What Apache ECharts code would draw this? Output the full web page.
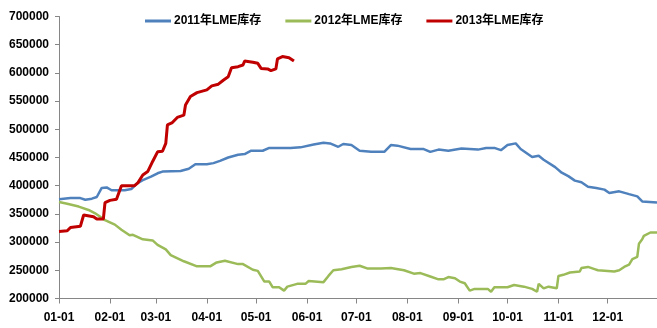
<!DOCTYPE html>
<html>
<head>
<meta charset="utf-8">
<script src="https://cdn.jsdelivr.net/npm/echarts@6/dist/echarts.min.js"></script>
<style>
  html, body { margin: 0; padding: 0; background: #fff; }
  #chart { width: 657px; height: 328px; }
</style>
</head>
<body>
<div id="chart"></div>
<script>
// LME stock levels (tonnes), sampled by day of year (0 = Jan 1)
const seriesNames = ['2011年LME库存', '2012年LME库存', '2013年LME库存'];

const day2011 = [0, 7, 13, 16, 20, 23, 26, 29, 32, 40, 44, 47, 51, 56, 60, 63, 74, 79, 83, 90,
  94, 98, 103, 109, 113, 117, 124, 128, 141, 147, 155, 161, 165, 170, 173, 178, 183, 190, 198, 202,
  206, 214, 222, 226, 231, 237, 245, 255, 260, 265, 269, 273, 278, 281, 288, 292, 295, 302, 306, 310,
  314, 318, 322, 327, 332, 335, 341, 347, 352, 355, 364];
const stock2011 = [376000, 378000, 378000, 375000, 377000, 380000, 396000, 397000, 392000, 392000,
  394000, 403000, 410000, 416000, 422000, 425000, 426000, 430000, 438000, 438000,
  440000, 444000, 450000, 455000, 456000, 462000, 462000, 467000, 467000, 468000,
  473000, 476000, 475000, 469000, 474000, 472000, 462000, 460000, 460000, 472000,
  471000, 465000, 465000, 460000, 464000, 462000, 466000, 464000, 467000, 467000,
  463000, 472000, 475000, 465000, 451000, 453000, 446000, 433000, 423000, 417000,
  409000, 406000, 398000, 396000, 393000, 387000, 390000, 385000, 381000, 372000, 370000];

const day2012 = [0, 5, 12, 18, 22, 28, 34, 38, 43, 45, 51, 57, 60, 65, 68, 76, 84, 92, 96, 101,
  109, 112, 118, 121, 125, 128, 130, 134, 137, 139, 145, 150, 152, 161, 164, 167, 172, 178, 183, 188,
  196, 202, 210, 216, 220, 226, 231, 234, 237, 241, 244, 247, 250, 253, 261, 263, 265, 273, 277, 283,
  288, 291, 292, 295, 298, 303, 304, 307, 311, 317, 318, 322, 326, 328, 338, 341, 344, 347, 349, 352,
  353, 355, 356, 360, 364];
const stock2012 = [371000, 368000, 363000, 357000, 351000, 339000, 331000, 322000, 312000, 313000,
  305000, 303000, 295000, 287000, 277000, 266000, 257000, 257000, 264000, 267000,
  261000, 261000, 251000, 249000, 230000, 230000, 220000, 220000, 214000, 221000,
  226000, 226000, 231000, 229000, 240000, 250000, 252000, 256000, 258000, 253000,
  253000, 254000, 250000, 244000, 245000, 239000, 234000, 234000, 238000, 236000,
  230000, 227000, 214000, 217000, 217000, 212000, 220000, 220000, 224000, 221000,
  217000, 212000, 226000, 218000, 221000, 218000, 240000, 242000, 246000, 248000,
  254000, 256000, 252000, 250000, 248000, 250000, 256000, 260000, 270000, 274000,
  297000, 305000, 311000, 317000, 317000];

const day2013 = [0, 5, 7, 13, 15, 21, 23, 27, 28, 31, 35, 38, 46, 48, 51, 54, 57, 60, 63, 65,
  66, 69, 72, 76, 77, 80, 84, 90, 93, 97, 100, 103, 105, 109, 112, 113, 118, 121, 123, 127,
  129, 132, 133, 136, 140, 143];
const stock2013 = [319000, 320000, 326000, 328000, 348000, 345000, 341000, 341000, 370000, 374000,
  376000, 400000, 400000, 405000, 419000, 425000, 443000, 460000, 461000, 475000,
  508000, 512000, 521000, 525000, 543000, 558000, 565000, 570000, 577000, 580000,
  587000, 593000, 609000, 611000, 614000, 621000, 619000, 617000, 608000, 607000,
  604000, 607000, 625000, 629000, 627000, 621000];

// y-axis range and step
const yMin = 200000, yMax = 700000, yStep = 50000;

// day-of-year category labels "MM-DD"
const monthLengths = [31, 28, 31, 30, 31, 30, 31, 31, 30, 31, 30, 31];
const categories = [];
monthLengths.forEach((len, m) => {
  for (let d = 1; d <= len; d++) {
    categories.push(String(m + 1).padStart(2, '0') + '-' + String(d).padStart(2, '0'));
  }
});

const pairs = (days, vals) => days.map((d, i) => [d, vals[i]]);
const isMonthStart = (idx) => categories[idx].endsWith('-01');

const font = "'Liberation Sans', 'Noto Sans CJK SC', sans-serif";
const colors = ['#4F81BD', '#9BBB59', '#C00000'];

const chart = echarts.init(document.getElementById('chart'), null, { renderer: 'canvas' });
chart.setOption({
  animation: false,
  color: colors,
  textStyle: { fontFamily: font },
  legend: {
    left: 140,
    top: 10,
    itemWidth: 26,
    itemHeight: 3,
    itemGap: 24,
    icon: 'rect',
    textStyle: { fontSize: 12, fontWeight: 'bold', color: '#000', fontFamily: font, padding: [0, 0, 0, -2] },
    data: seriesNames
  },
  grid: { left: 59, right: 0, top: 16.5, bottom: 29.5, containLabel: false },
  xAxis: {
    type: 'category',
    data: categories,
    boundaryGap: false,
    axisLine: { lineStyle: { color: '#868686', width: 1 } },
    axisTick: { interval: isMonthStart, length: 5, lineStyle: { color: '#868686' } },
    axisLabel: {
      interval: isMonthStart,
      margin: 13,
      fontSize: 12,
      fontWeight: 'bold',
      color: '#000',
      fontFamily: font
    },
    splitLine: { show: false }
  },
  yAxis: {
    type: 'value',
    min: yMin,
    max: yMax,
    interval: yStep,
    axisLine: { show: true, lineStyle: { color: '#868686', width: 1 } },
    axisTick: { show: true, length: 4, lineStyle: { color: '#868686' } },
    axisLabel: {
      margin: 10,
      fontSize: 12,
      fontWeight: 'bold',
      color: '#000',
      fontFamily: font,
      formatter: (v) => String(v)
    },
    splitLine: { show: false }
  },
  series: [
    { name: seriesNames[0], type: 'line', data: pairs(day2011, stock2011), symbol: 'none',
      lineStyle: { width: 2.5, color: colors[0] }, z: 2 },
    { name: seriesNames[1], type: 'line', data: pairs(day2012, stock2012), symbol: 'none',
      lineStyle: { width: 2.5, color: colors[1] }, z: 3 },
    { name: seriesNames[2], type: 'line', data: pairs(day2013, stock2013), symbol: 'none',
      lineStyle: { width: 3, color: colors[2] }, z: 4 }
  ]
});
</script>
</body>
</html>
